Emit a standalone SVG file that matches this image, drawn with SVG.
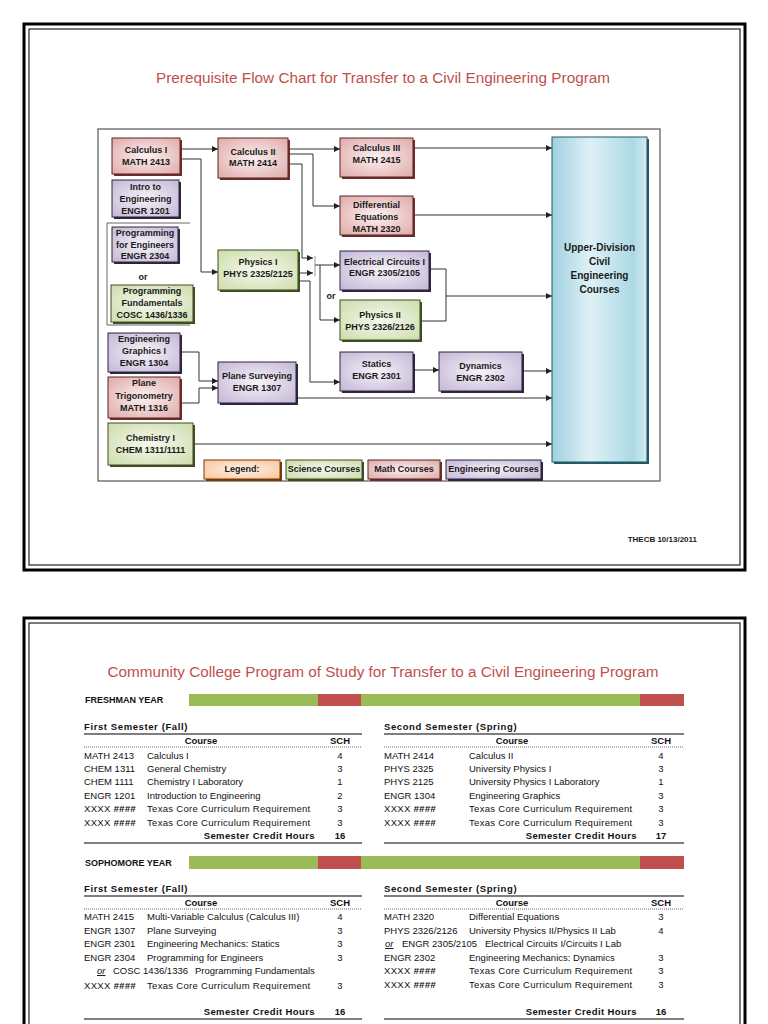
<svg xmlns="http://www.w3.org/2000/svg" width="768" height="1024" viewBox="0 0 768 1024">
<defs>
<radialGradient id="gm" cx="50%" cy="50%" r="70%"><stop offset="0" stop-color="#fbf0f0"/><stop offset="1" stop-color="#dfaaa9"/></radialGradient>
<radialGradient id="gs" cx="50%" cy="50%" r="70%"><stop offset="0" stop-color="#f6f9ee"/><stop offset="1" stop-color="#cddcab"/></radialGradient>
<radialGradient id="ge" cx="50%" cy="50%" r="70%"><stop offset="0" stop-color="#f5f2f8"/><stop offset="1" stop-color="#c3b7d6"/></radialGradient>
<radialGradient id="gl" cx="50%" cy="50%" r="70%"><stop offset="0" stop-color="#fdf2ea"/><stop offset="1" stop-color="#f8c598"/></radialGradient>
<linearGradient id="gu" x1="0" y1="0" x2="1" y2="0"><stop offset="0" stop-color="#9fd0df"/><stop offset="0.4" stop-color="#dff1f6"/><stop offset="0.85" stop-color="#acd9e5"/><stop offset="1" stop-color="#d2eaf1"/></linearGradient>
<marker id="ar" markerWidth="6" markerHeight="6" refX="6" refY="3" orient="auto" markerUnits="userSpaceOnUse"><path d="M0,0 L6,3 L0,6 z" fill="#222"/></marker>
<style>
.frame{fill:none;stroke:#000;stroke-width:3}
.frame2{fill:none;stroke:#222;stroke-width:1.2}
.title{font-family:"Liberation Sans",Arial,sans-serif;font-size:15.3px;fill:#c0504d;text-anchor:middle}
.nt{font-family:"Liberation Sans",Arial,sans-serif;font-size:9px;font-weight:bold;fill:#1a1a1a;text-anchor:middle}
.ut{font-family:"Liberation Sans",Arial,sans-serif;font-size:10px;font-weight:bold;fill:#1a1a1a;text-anchor:middle}
.math .sh{fill:#6e2c2a}.math .bx{fill:url(#gm);stroke:#5a2422;stroke-width:1}
.sci .sh{fill:#3f4e20}.sci .bx{fill:url(#gs);stroke:#3f4e20;stroke-width:1}
.eng .sh{fill:#2f253d}.eng .bx{fill:url(#ge);stroke:#2f253d;stroke-width:1}
.leg .sh{fill:#7a3a05}.leg .bx{fill:url(#gl);stroke:#7a3a05;stroke-width:1}
.con path{fill:none;stroke:#333;stroke-width:1}
.con .a{marker-end:url(#ar)}
.t{font-family:"Liberation Sans",Arial,sans-serif;font-size:9.5px;fill:#111}
.tb{font-family:"Liberation Sans",Arial,sans-serif;font-size:9.5px;font-weight:bold;fill:#111}
.ls{letter-spacing:0.3px}
.hh{font-weight:bold;font-style:italic}
.c{text-anchor:middle}
.e{text-anchor:end}
.hl{stroke:#555;stroke-width:1.5}
.dl{stroke:#666;stroke-width:1;stroke-dasharray:1,1}
.or{font-style:italic;text-decoration:underline}
</style>
</defs>
<rect width="768" height="1024" fill="#fff"/>

<!-- page 1 frame -->
<rect class="frame" x="24" y="24" width="721" height="546"/>
<rect class="frame2" x="29" y="29" width="711" height="536"/>
<text class="title" x="383" y="83">Prerequisite Flow Chart for Transfer to a Civil Engineering Program</text>
<rect x="98" y="129" width="562" height="352" fill="none" stroke="#555" stroke-width="1.2"/>
<path d="M107,223 H190 M107,223 V325 H190" fill="none" stroke="#666" stroke-width="1"/>

<g id="connectors" class="con">
<path class="a" d="M180,149 H218"/>
<path class="a" d="M180,159 H201 V272 H218"/>
<path class="a" d="M288,149 H340"/>
<path class="a" d="M288,154 H313 V206 H340"/>
<path class="a" d="M288,164 H302 V258 H313"/>
<path class="a" d="M298,273 H313"/>
<path d="M315,256 V276" style="stroke:#999"/>
<path class="a" d="M315,265 H340"/>
<path class="a" d="M320,265 V320 H340"/>
<path class="a" d="M298,281 H310 V382 H340"/>
<path class="a" d="M413,148 H552"/>
<path class="a" d="M413,215 H552"/>
<path d="M429,269 H446 V321 H420"/>
<path class="a" d="M446,296 H552"/>
<path class="a" d="M413,370 H439"/>
<path class="a" d="M522,371 H552"/>
<path class="a" d="M180,352 H199 V381 H218"/>
<path class="a" d="M180,403 H199 V388 H218"/>
<path class="a" d="M296,398 H552"/>
<path class="a" d="M193,444 H552"/>
</g>

<g id="calc1" class="math"><rect class="sh" x="114" y="140" width="68" height="36"/><rect class="bx" x="112" y="138" width="68" height="36"/><text class="nt" x="146" y="153">Calculus I</text><text class="nt" x="146" y="165">MATH 2413</text></g>
<g id="intro" class="eng"><rect class="sh" x="114" y="182" width="67" height="37"/><rect class="bx" x="112" y="180" width="67" height="37"/><text class="nt" x="145.5" y="190">Intro to</text><text class="nt" x="145.5" y="202">Engineering</text><text class="nt" x="145.5" y="214">ENGR 1201</text></g>
<g id="progeng" class="eng"><rect class="sh" x="114" y="229" width="66" height="35"/><rect class="bx" x="112" y="227" width="66" height="35"/><text class="nt" x="145" y="236">Programming</text><text class="nt" x="145" y="248">for Engineers</text><text class="nt" x="145" y="259">ENGR 2304</text></g>
<text id="or1" class="nt" x="143" y="280">or</text>
<g id="progfund" class="sci"><rect class="sh" x="113" y="287" width="82" height="37"/><rect class="bx" x="111" y="285" width="82" height="37"/><text class="nt" x="152" y="294">Programming</text><text class="nt" x="152" y="306">Fundamentals</text><text class="nt" x="152" y="318">COSC 1436/1336</text></g>
<g id="enggraph" class="eng"><rect class="sh" x="110" y="335" width="72" height="39"/><rect class="bx" x="108" y="333" width="72" height="39"/><text class="nt" x="144" y="342">Engineering</text><text class="nt" x="144" y="354">Graphics I</text><text class="nt" x="144" y="366">ENGR 1304</text></g>
<g id="trig" class="math"><rect class="sh" x="110" y="379" width="72" height="41"/><rect class="bx" x="108" y="377" width="72" height="41"/><text class="nt" x="144" y="386">Plane</text><text class="nt" x="144" y="399">Trigonometry</text><text class="nt" x="144" y="411">MATH 1316</text></g>
<g id="chem" class="sci"><rect class="sh" x="110" y="425" width="85" height="42"/><rect class="bx" x="108" y="423" width="85" height="42"/><text class="nt" x="150.5" y="441">Chemistry I</text><text class="nt" x="150.5" y="453">CHEM 1311/1111</text></g>
<g id="calc2" class="math"><rect class="sh" x="220" y="140" width="70" height="40"/><rect class="bx" x="218" y="138" width="70" height="40"/><text class="nt" x="253" y="155">Calculus II</text><text class="nt" x="253" y="166">MATH 2414</text></g>
<g id="phys1" class="sci"><rect class="sh" x="220" y="252" width="80" height="40"/><rect class="bx" x="218" y="250" width="80" height="40"/><text class="nt" x="258" y="265">Physics I</text><text class="nt" x="258" y="277">PHYS 2325/2125</text></g>
<g id="survey" class="eng"><rect class="sh" x="220" y="364" width="78" height="41"/><rect class="bx" x="218" y="362" width="78" height="41"/><text class="nt" x="257" y="379">Plane Surveying</text><text class="nt" x="257" y="391">ENGR 1307</text></g>
<g id="calc3" class="math"><rect class="sh" x="342" y="140" width="73" height="39"/><rect class="bx" x="340" y="138" width="73" height="39"/><text class="nt" x="376.5" y="151">Calculus III</text><text class="nt" x="376.5" y="163">MATH 2415</text></g>
<g id="diffeq" class="math"><rect class="sh" x="342" y="198" width="73" height="39"/><rect class="bx" x="340" y="196" width="73" height="39"/><text class="nt" x="376.5" y="208">Differential</text><text class="nt" x="376.5" y="220">Equations</text><text class="nt" x="376.5" y="232">MATH 2320</text></g>
<g id="elec" class="eng"><rect class="sh" x="342" y="253" width="89" height="39"/><rect class="bx" x="340" y="251" width="89" height="39"/><text class="nt" x="384.5" y="265">Electrical Circuits I</text><text class="nt" x="384.5" y="276">ENGR 2305/2105</text></g>
<text id="or2" class="nt" x="331" y="299">or</text>
<g id="phys2" class="sci"><rect class="sh" x="342" y="302" width="80" height="40"/><rect class="bx" x="340" y="300" width="80" height="40"/><text class="nt" x="380" y="318">Physics II</text><text class="nt" x="380" y="330">PHYS 2326/2126</text></g>
<g id="statics" class="eng"><rect class="sh" x="342" y="354" width="73" height="39"/><rect class="bx" x="340" y="352" width="73" height="39"/><text class="nt" x="376.5" y="367">Statics</text><text class="nt" x="376.5" y="379">ENGR 2301</text></g>
<g id="dynamics" class="eng"><rect class="sh" x="441" y="354" width="83" height="39"/><rect class="bx" x="439" y="352" width="83" height="39"/><text class="nt" x="480.5" y="369">Dynamics</text><text class="nt" x="480.5" y="381">ENGR 2302</text></g>
<g id="upper"><rect x="554" y="139" width="95" height="325" fill="#215967"/><rect x="552" y="137" width="95" height="325" fill="url(#gu)" stroke="#215967" stroke-width="1"/><text class="ut" x="599.5" y="251">Upper-Division</text><text class="ut" x="599.5" y="265">Civil</text><text class="ut" x="599.5" y="279">Engineering</text><text class="ut" x="599.5" y="293">Courses</text></g>

<g id="legend">
<g class="leg"><rect class="sh" x="206" y="462" width="76" height="19"/><rect class="bx" x="204" y="460" width="76" height="19"/><text class="nt" x="242" y="472">Legend:</text></g>
<g class="sci"><rect class="sh" x="288" y="462" width="76" height="19"/><rect class="bx" x="286" y="460" width="76" height="19"/><text class="nt" x="324" y="472">Science Courses</text></g>
<g class="math"><rect class="sh" x="370" y="462" width="72" height="19"/><rect class="bx" x="368" y="460" width="72" height="19"/><text class="nt" x="404" y="472">Math Courses</text></g>
<g class="eng"><rect class="sh" x="448" y="462" width="95" height="19"/><rect class="bx" x="446" y="460" width="95" height="19"/><text class="nt" x="493.5" y="472">Engineering Courses</text></g>
</g>
<text class="nt" x="697" y="542" style="text-anchor:end;font-size:8px">THECB 10/13/2011</text>

<!-- page 2 -->
<rect class="frame" x="24" y="618" width="721" height="450"/>
<rect class="frame2" x="29" y="623" width="711" height="440"/>
<text class="title" x="383" y="677">Community College Program of Study for Transfer to a Civil Engineering Program</text>

<g id="freshman">
<text class="tb" x="85" y="703" style="font-size:9px">FRESHMAN YEAR</text>
<rect x="189" y="694" width="129" height="12" fill="#9bbb59"/>
<rect x="318" y="694" width="43" height="12" fill="#c0504d"/>
<rect x="361" y="694" width="279" height="12" fill="#9bbb59"/>
<rect x="640" y="694" width="44" height="12" fill="#c0504d"/>

<text class="tb" x="84" y="730" style="letter-spacing:0.6px">First Semester (Fall)</text>
<line class="hl" x1="84" y1="734" x2="362" y2="734"/>
<text class="tb c" x="201" y="744">Course</text><text class="tb c" x="340" y="744">SCH</text>
<line class="dl" x1="84" y1="747" x2="362" y2="747"/>
<text class="t" x="84" y="759">MATH 2413</text><text class="t" x="147" y="759">Calculus I</text><text class="t c" x="340" y="759">4</text>
<text class="t" x="84" y="772">CHEM 1311</text><text class="t" x="147" y="772">General Chemistry</text><text class="t c" x="340" y="772">3</text>
<text class="t" x="84" y="785">CHEM 1111</text><text class="t" x="147" y="785">Chemistry I Laboratory</text><text class="t c" x="340" y="785">1</text>
<text class="t" x="84" y="799">ENGR 1201</text><text class="t" x="147" y="799">Introduction to Engineering</text><text class="t c" x="340" y="799">2</text>
<text class="t ls" x="84" y="812">XXXX <tspan class="hh">####</tspan></text><text class="t ls" x="147" y="812">Texas Core Curriculum Requirement</text><text class="t c" x="340" y="812">3</text>
<text class="t ls" x="84" y="826">XXXX <tspan class="hh">####</tspan></text><text class="t ls" x="147" y="826">Texas Core Curriculum Requirement</text><text class="t c" x="340" y="826">3</text>
<text class="tb e" x="315" y="839" style="letter-spacing:0.4px">Semester Credit Hours</text><text class="tb c" x="340" y="839">16</text>
<line class="hl" x1="84" y1="843" x2="362" y2="843"/>

<text class="tb" x="384" y="730" style="letter-spacing:0.6px">Second Semester (Spring)</text>
<line class="hl" x1="384" y1="734" x2="684" y2="734"/>
<text class="tb c" x="512" y="744">Course</text><text class="tb c" x="661" y="744">SCH</text>
<line class="dl" x1="384" y1="747" x2="684" y2="747"/>
<text class="t" x="384" y="759">MATH 2414</text><text class="t" x="469" y="759">Calculus II</text><text class="t c" x="661" y="759">4</text>
<text class="t" x="384" y="772">PHYS 2325</text><text class="t" x="469" y="772">University Physics I</text><text class="t c" x="661" y="772">3</text>
<text class="t" x="384" y="785">PHYS 2125</text><text class="t" x="469" y="785">University Physics I Laboratory</text><text class="t c" x="661" y="785">1</text>
<text class="t" x="384" y="799">ENGR 1304</text><text class="t" x="469" y="799">Engineering Graphics</text><text class="t c" x="661" y="799">3</text>
<text class="t ls" x="384" y="812">XXXX <tspan class="hh">####</tspan></text><text class="t ls" x="469" y="812">Texas Core Curriculum Requirement</text><text class="t c" x="661" y="812">3</text>
<text class="t ls" x="384" y="826">XXXX <tspan class="hh">####</tspan></text><text class="t ls" x="469" y="826">Texas Core Curriculum Requirement</text><text class="t c" x="661" y="826">3</text>
<text class="tb e" x="637" y="839" style="letter-spacing:0.4px">Semester Credit Hours</text><text class="tb c" x="661" y="839">17</text>
<line class="hl" x1="384" y1="843" x2="684" y2="843"/>
</g>

<g id="sophomore">
<text class="tb" x="85" y="866" style="font-size:9px">SOPHOMORE YEAR</text>
<rect x="189" y="856" width="129" height="13" fill="#9bbb59"/>
<rect x="318" y="856" width="43" height="13" fill="#c0504d"/>
<rect x="361" y="856" width="279" height="13" fill="#9bbb59"/>
<rect x="640" y="856" width="44" height="13" fill="#c0504d"/>

<text class="tb" x="84" y="892" style="letter-spacing:0.6px">First Semester (Fall)</text>
<line class="hl" x1="84" y1="896" x2="362" y2="896"/>
<text class="tb c" x="201" y="906">Course</text><text class="tb c" x="340" y="906">SCH</text>
<line class="dl" x1="84" y1="909" x2="362" y2="909"/>
<text class="t" x="84" y="920">MATH 2415</text><text class="t" x="147" y="920">Multi-Variable Calculus (Calculus III)</text><text class="t c" x="340" y="920">4</text>
<text class="t" x="84" y="934">ENGR 1307</text><text class="t" x="147" y="934">Plane Surveying</text><text class="t c" x="340" y="934">3</text>
<text class="t" x="84" y="947">ENGR 2301</text><text class="t" x="147" y="947">Engineering Mechanics: Statics</text><text class="t c" x="340" y="947">3</text>
<text class="t" x="84" y="961">ENGR 2304</text><text class="t" x="147" y="961">Programming for Engineers</text><text class="t c" x="340" y="961">3</text>
<text class="t" x="97" y="974"><tspan class="or">or</tspan></text><text class="t" x="113" y="974">COSC 1436/1336</text><text class="t" x="195" y="974">Programming Fundamentals</text>
<text class="t ls" x="84" y="989">XXXX <tspan class="hh">####</tspan></text><text class="t ls" x="147" y="989">Texas Core Curriculum Requirement</text><text class="t c" x="340" y="989">3</text>
<text class="tb e" x="315" y="1015" style="letter-spacing:0.4px">Semester Credit Hours</text><text class="tb c" x="340" y="1015">16</text>
<line class="hl" x1="84" y1="1019" x2="362" y2="1019"/>

<text class="tb" x="384" y="892" style="letter-spacing:0.6px">Second Semester (Spring)</text>
<line class="hl" x1="384" y1="896" x2="684" y2="896"/>
<text class="tb c" x="512" y="906">Course</text><text class="tb c" x="661" y="906">SCH</text>
<line class="dl" x1="384" y1="909" x2="684" y2="909"/>
<text class="t" x="384" y="920">MATH 2320</text><text class="t" x="469" y="920">Differential Equations</text><text class="t c" x="661" y="920">3</text>
<text class="t" x="384" y="934">PHYS 2326/2126</text><text class="t" x="469" y="934">University Physics II/Physics II Lab</text><text class="t c" x="661" y="934">4</text>
<text class="t" x="385" y="947"><tspan class="or">or</tspan></text><text class="t" x="402" y="947">ENGR 2305/2105</text><text class="t" x="485" y="947">Electrical Circuits I/Circuits I Lab</text>
<text class="t" x="384" y="961">ENGR 2302</text><text class="t" x="469" y="961">Engineering Mechanics:  Dynamics</text><text class="t c" x="661" y="961">3</text>
<text class="t ls" x="384" y="974">XXXX <tspan class="hh">####</tspan></text><text class="t ls" x="469" y="974">Texas Core Curriculum Requirement</text><text class="t c" x="661" y="974">3</text>
<text class="t ls" x="384" y="988">XXXX <tspan class="hh">####</tspan></text><text class="t ls" x="469" y="988">Texas Core Curriculum Requirement</text><text class="t c" x="661" y="988">3</text>
<text class="tb e" x="637" y="1015" style="letter-spacing:0.4px">Semester Credit Hours</text><text class="tb c" x="661" y="1015">16</text>
<line class="hl" x1="384" y1="1019" x2="684" y2="1019"/>
</g>
</svg>
